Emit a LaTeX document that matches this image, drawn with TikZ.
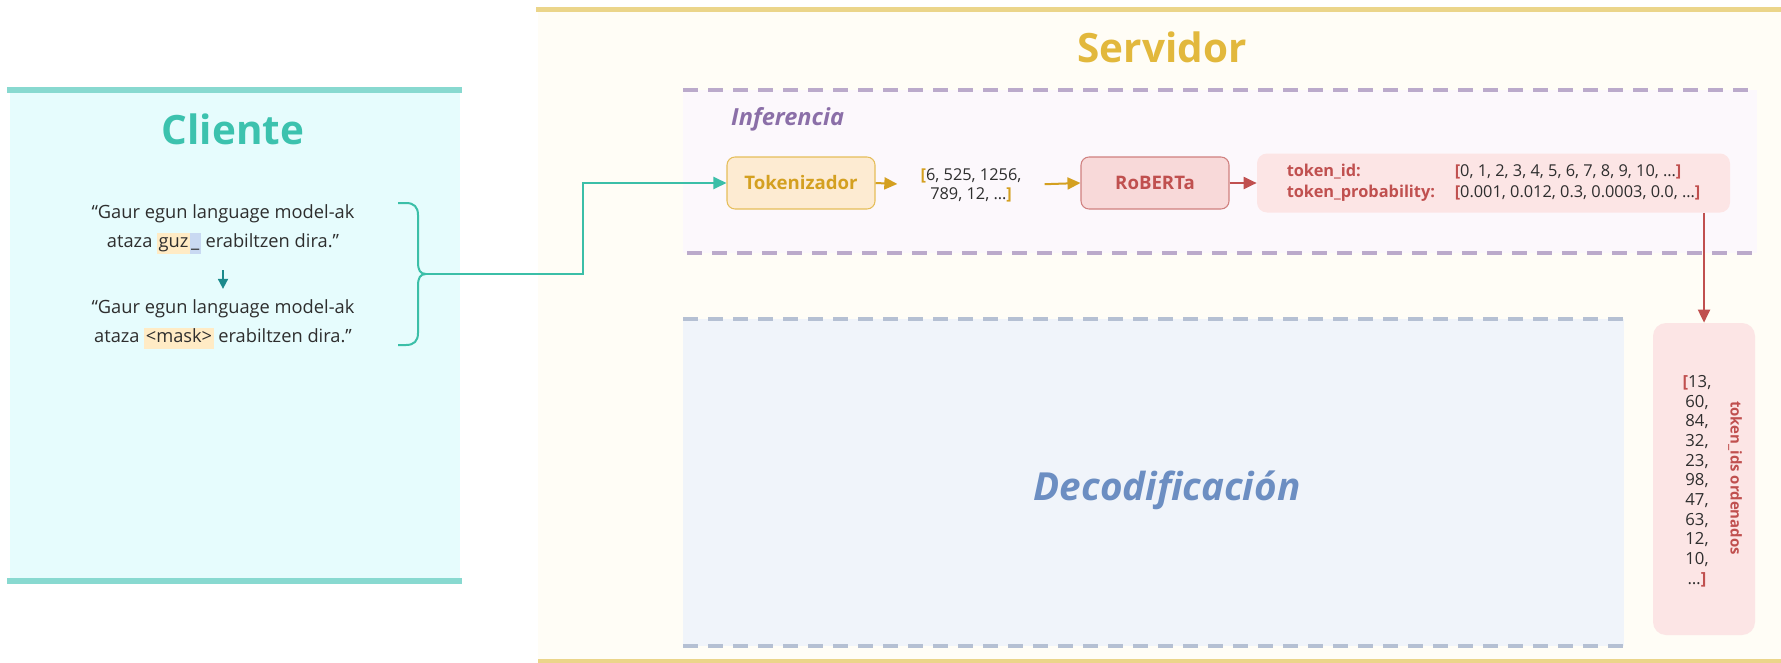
\documentclass[tikz,border=0pt]{standalone}
\usepackage{fontspec}
\setmainfont{Open Sans}
\usetikzlibrary{arrows.meta}

\definecolor{txt}{HTML}{2E2E2E}
\definecolor{clienteFill}{HTML}{E6FCFD}
\definecolor{clienteBar}{HTML}{88D9D0}
\definecolor{clienteTitle}{HTML}{3CC2AE}
\definecolor{clienteArrow}{HTML}{3BBFA8}
\definecolor{clienteDown}{HTML}{1B8A8C}
\definecolor{servFill}{HTML}{FFFDF6}
\definecolor{servBar}{HTML}{EBD58A}
\definecolor{servTitle}{HTML}{E2B83C}
\definecolor{infFill}{HTML}{FCF8FC}
\definecolor{infDash}{HTML}{BBAACB}
\definecolor{infText}{HTML}{8B6FA8}
\definecolor{decFill}{HTML}{F0F4FA}
\definecolor{decDash}{HTML}{B5C0D3}
\definecolor{decText}{HTML}{6C8EC2}
\definecolor{tokFill}{HTML}{FDEBD2}
\definecolor{tokDraw}{HTML}{E5BE5A}
\definecolor{tokText}{HTML}{D4A020}
\definecolor{robFill}{HTML}{F8D9D9}
\definecolor{robDraw}{HTML}{D0807F}
\definecolor{robText}{HTML}{C0504F}
\definecolor{outFill}{HTML}{FCE5E5}
\definecolor{hlOrange}{HTML}{FFEBC5}
\definecolor{hlBlue}{HTML}{C9D9F2}

\newcommand{\hlword}[2]{{\setlength{\fboxsep}{0.8pt}\colorbox{#1}{\vphantom{Ag}#2}}}
\newcommand{\redbr}[1]{\textcolor{robText}{\textbf{#1}}}
\newcommand{\goldbr}[1]{\textcolor{tokText}{\textbf{#1}}}

\tikzset{
  title/.style={font={\fontsize{23}{23}\selectfont\bfseries}},
  quote/.style={align=center, inner sep=0pt, text=txt, font={\fontsize{10.4}{17}\selectfont}},
  procbox/.style={rounded corners=1.6mm, line width=0.6pt, minimum width=29.6mm,
    minimum height=10.4mm, font={\fontsize{10.6}{10.6}\selectfont\bfseries}},
  dashline/.style={line width=0.8mm, dash pattern=on 3mm off 2mm},
  tip/.style={-{Triangle[length=2.6mm,width=2.4mm]}, line width=0.4mm},
}

\begin{document}
\begin{tikzpicture}[x=0.2mm, y=-0.2mm]

\useasboundingbox (0,0) rectangle (1781,662);
\fill[white] (0,0) rectangle (1781,662);

% Cliente
\fill[clienteFill] (10,90) rectangle (460,581);
\draw[clienteBar, line width=1.2mm] (7,90) -- (462,90) (7,581) -- (462,581);
\node[title, text=clienteTitle, anchor=base] (cliente) at (233,145) {Cliente};

\node[quote] (q-orig) at (223,229) {“Gaur egun language model-ak\\
ataza \hlword{hlOrange}{guz}\hlword{hlBlue}{\_} erabiltzen dira.”};
\node[quote] (q-mask) at (223,324) {“Gaur egun language model-ak\\
ataza \hlword{hlOrange}{<mask>} erabiltzen dira.”};
\draw[-{Triangle[length=2mm,width=2mm]}, clienteDown, line width=0.35mm,
  shorten <=3.2mm, shorten >=2mm] (q-orig.south) -- (q-mask.north);

% brace
\draw[clienteArrow, line width=0.4mm] (398,203) -- (406,203)
  .. controls (414,203) and (418,207) .. (418,215) -- (418,262)
  .. controls (418,270) and (420,274) .. (426,274)
  .. controls (420,274) and (418,278) .. (418,286) -- (418,333)
  .. controls (418,341) and (414,345) .. (406,345) -- (398,345);
\coordinate (btip) at (426,274);
\coordinate (bend) at (583,274);

% Servidor
\fill[servFill] (538,9) rectangle (1781,662);
\draw[servBar, line width=1mm] (536,9.5) -- (1781,9.5);
\draw[servBar, line width=0.8mm] (538,660.5) -- (1781,660.5);
\node[title, text=servTitle, anchor=base] (servidor) at (1162,63) {Servidor};

% Inferencia
\fill[infFill] (683,90) rectangle (1757,253);
\draw[dashline, infDash] (683,90) -- (1752,90) (687,253) -- (1757,253);
\node[anchor=base west, text=infText, font={\fontsize{13.4}{13.4}\selectfont\bfseries\itshape}]
  (inferencia) at (725,125) {Inferencia};

\node[procbox, draw=tokDraw, fill=tokFill, text=tokText] (tok) at (801,183) {Tokenizador};
\node[align=center, inner sep=0pt, text=txt, font={\fontsize{9.3}{10.8}\selectfont}]
  (tok-list) at (971,185) {\goldbr{[}6, 525, 1256,\\789, 12, …\goldbr{]}};
\node[procbox, draw=robDraw, fill=robFill, text=robText] (roberta) at (1155,183) {RoBERTa};

\node[fill=outFill, rounded corners=2mm, minimum width=94.6mm, minimum height=11.8mm,
  text=robText, font={\fontsize{9.3}{11.4}\selectfont}] (probs) at (1493.5,183) {%
  \begin{tabular}{@{}p{33.6mm}@{}l@{}}
  \textbf{token\_id:} & \redbr{[}\textcolor{txt}{0, 1, 2, 3, 4, 5, 6, 7, 8, 9, 10, …}\redbr{]}\\
  \textbf{token\_probability:} & \redbr{[}\textcolor{txt}{0.001, 0.012, 0.3, 0.0003, 0.0, …}\redbr{]}
  \end{tabular}};

% Decodificacion
\fill[decFill] (683,319) rectangle (1624,646);
\draw[dashline, decDash] (683,319) -- (1624,319) (683,646) -- (1624,646);
\node[anchor=base, text=decText, font={\fontsize{22}{22}\selectfont\bfseries\itshape}]
  (decodif) at (1167,500) {Decodificación};

% token_ids ordenados
\node[fill=outFill, rounded corners=2.6mm, minimum width=20.4mm, minimum height=62.4mm]
  (ids-box) at (1704,479) {};
\node[align=center, inner sep=0pt, text=txt, font={\fontsize{9.5}{11.2}\selectfont}]
  (ids-list) at (1697,481) {\redbr{[}13,\\60,\\84,\\32,\\23,\\98,\\47,\\63,\\12,\\10,\\…\redbr{]}};
\node[rotate=-90, text=robText, font={\fontsize{8.5}{8.5}\selectfont\bfseries}]
  (ids-label) at (1735,478) {token\_ids ordenados};

% connectors
\draw[tip, clienteArrow] (btip) -- (bend) |- (tok.west);
\draw[tip, tokText, shorten >=4.6mm] (tok.east) -- (tok-list.west);
\draw[tip, tokText, shorten <=4.6mm] (tok-list.east) -- (roberta.west);
\draw[tip, robText] (roberta.east) -- (probs.west);
\draw[tip, robText] (probs.south -| ids-box) -- (ids-box.north);

\end{tikzpicture}
\end{document}
